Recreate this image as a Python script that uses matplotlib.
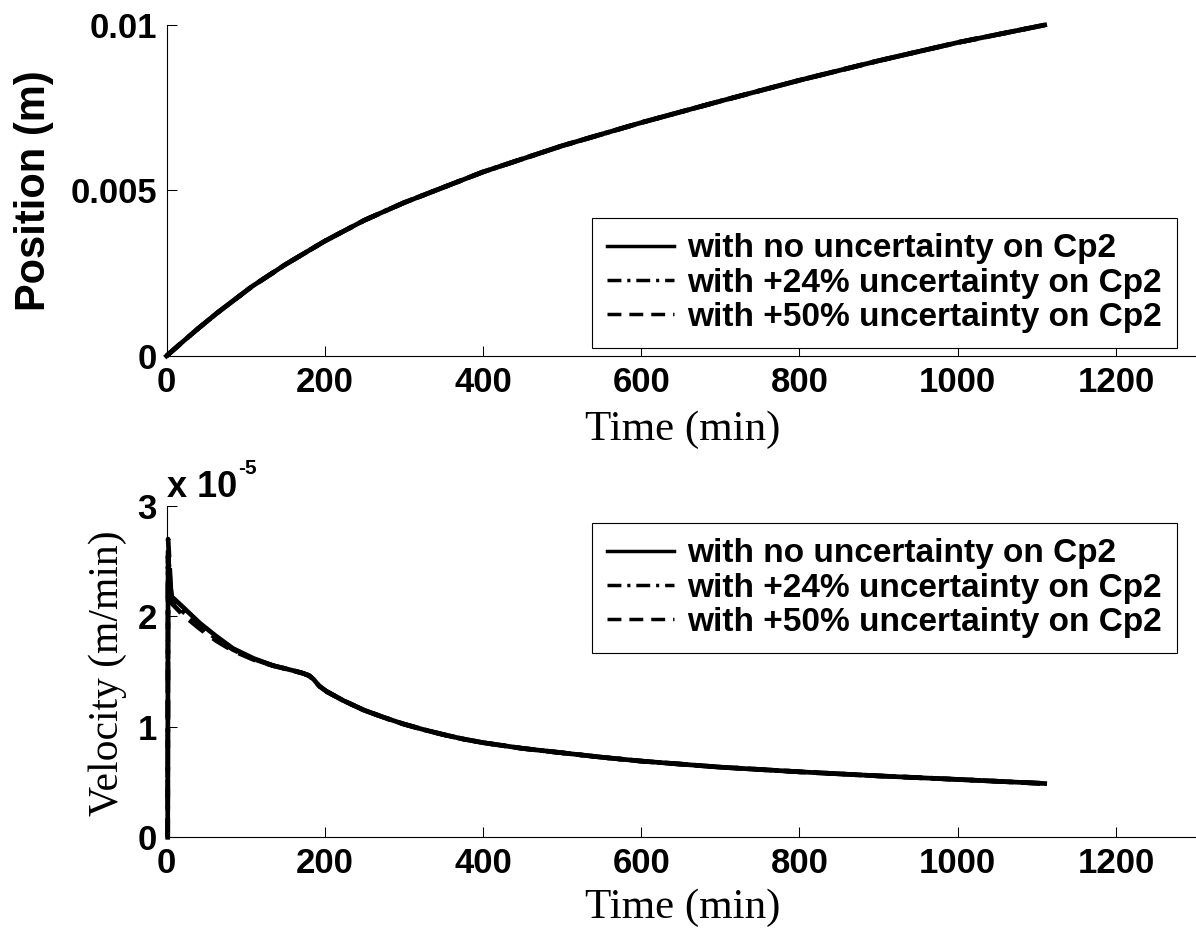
import matplotlib
matplotlib.use("Agg")
import matplotlib.pyplot as plt
from matplotlib.lines import Line2D

plt.rcParams["font.family"] = ["Liberation Sans", "DejaVu Sans"]
plt.rcParams["font.weight"] = "bold"

# position (m) vs time (min)
pos_t = [0, 20, 40, 64, 108, 150, 200, 250, 300, 400, 500, 600, 700, 800, 900, 1000, 1110]
pos_none = [0, 0.42e-3, 0.83e-3, 1.30e-3, 2.10e-3, 2.76e-3, 3.47e-3, 4.10e-3, 4.63e-3,
            5.56e-3, 6.35e-3, 7.05e-3, 7.70e-3, 8.33e-3, 8.92e-3, 9.47e-3, 10.0e-3]
pos_24 = [0, 0.42e-3, 0.83e-3, 1.30e-3, 2.10e-3, 2.76e-3, 3.47e-3, 4.10e-3, 4.63e-3,
          5.56e-3, 6.35e-3, 7.05e-3, 7.70e-3, 8.33e-3, 8.92e-3, 9.47e-3, 10.0e-3]
pos_50 = [0, 0.42e-3, 0.83e-3, 1.30e-3, 2.10e-3, 2.76e-3, 3.47e-3, 4.10e-3, 4.63e-3,
          5.56e-3, 6.35e-3, 7.05e-3, 7.70e-3, 8.33e-3, 8.92e-3, 9.47e-3, 10.0e-3]

# velocity (x 1e-5 m/min) vs time (min)
vel_t = [1.5, 2, 6.5, 20, 42, 63, 84, 110, 134.5, 160, 172.6, 180, 186, 193, 202.5,
         223, 250, 275, 300, 325, 350, 375, 400, 450, 500, 550, 600, 700, 800, 900,
         1000, 1110]
vel_none = [0, 2.45, 2.18, 2.09, 1.94, 1.82, 1.71, 1.62, 1.555, 1.51, 1.485, 1.465, 1.43,
            1.37, 1.32, 1.24, 1.15, 1.085, 1.025, 0.975, 0.93, 0.89, 0.857, 0.805, 0.765,
            0.725, 0.69, 0.635, 0.593, 0.556, 0.524, 0.487]
vel_24 = [0, 2.55, 2.15, 2.05, 1.91, 1.80, 1.70, 1.615, 1.555, 1.51, 1.485, 1.465, 1.43,
          1.37, 1.32, 1.24, 1.15, 1.085, 1.025, 0.975, 0.93, 0.89, 0.857, 0.805, 0.765,
          0.725, 0.69, 0.635, 0.593, 0.556, 0.524, 0.487]
vel_50 = [0, 2.70, 2.12, 2.02, 1.89, 1.78, 1.69, 1.61, 1.555, 1.51, 1.485, 1.465, 1.43,
          1.37, 1.32, 1.24, 1.15, 1.085, 1.025, 0.975, 0.93, 0.89, 0.857, 0.805, 0.765,
          0.725, 0.69, 0.635, 0.593, 0.556, 0.524, 0.487]

series_labels = ["with no uncertainty on Cp2",
                 "with +24% uncertainty on Cp2",
                 "with +50% uncertainty on Cp2"]
x_ticks = [0, 200, 400, 600, 800, 1000, 1200]
pos_ticks = [0, 0.005, 0.01]
pos_tick_labels = ["0", "0.005", "0.01"]
vel_ticks = [0, 1, 2, 3]

W, H = 1196, 932
fig = plt.figure(figsize=(W / 100, H / 100), dpi=100)


def px_axes(left, top, right, bottom):
    return fig.add_axes([left / W, 1 - bottom / H, (right - left) / W, (bottom - top) / H])


ax1 = px_axes(166.5, 25, 1195, 356)
ax2 = px_axes(166.5, 506, 1195, 837.3)

styles = [dict(ls="-"), dict(ls=(0, (4.0, 1.7, 0.9, 1.7))), dict(ls=(0, (4.0, 2.3)))]
lw = 3.4
lw_handle = 2.5

for ys, st in zip([pos_none, pos_24, pos_50], styles):
    ax1.plot(pos_t, ys, color="black", lw=lw, clip_on=False, **st)
for ys, st in zip([vel_none, vel_24, vel_50], styles):
    ax2.plot(vel_t, ys, color="black", lw=lw, clip_on=False, **st)

for ax in (ax1, ax2):
    ax.set_xlim(0, 1300)
    ax.set_xticks(x_ticks)
    ax.spines["top"].set_visible(False)
    ax.spines["right"].set_visible(False)
    for s in ("left", "bottom"):
        ax.spines[s].set_linewidth(0.8)
    ax.tick_params(direction="in", length=7, width=0.75, labelsize=25, pad=7)

ax1.set_ylim(0, 0.01)
ax1.set_yticks(pos_ticks, pos_tick_labels)
ax2.set_ylim(0, 3)
ax2.set_yticks(vel_ticks, [str(v) for v in vel_ticks])

handles = [Line2D([], [], color="black", lw=lw_handle, **st) for st in styles]
for ax, bottom in ((ax1, 348), (ax2, 653)):
    leg = ax.legend(handles, series_labels, loc="lower right",
                    bbox_to_anchor=(1177 / W, 1 - bottom / H), bbox_transform=fig.transFigure,
                    fontsize=24, handlelength=2.0, handletextpad=0.4, borderpad=0.45,
                    labelspacing=0.1, borderaxespad=0, fancybox=False, framealpha=1,
                    edgecolor="black")
    leg.get_frame().set_linewidth(0.8)

fig.text(683 / W, 1 - 430 / H, "Time (min)", family="Liberation Serif", weight="normal",
         size=31, ha="center", va="center")
fig.text(683 / W, 1 - 908 / H, "Time (min)", family="Liberation Serif", weight="normal",
         size=31, ha="center", va="center")
fig.text(34 / W, 1 - 190.5 / H, "Position (m)", size=30, rotation=90,
         ha="center", va="center")
fig.text(108 / W, 1 - 673 / H, "Velocity (m/min)", family="Liberation Serif",
         weight="normal", size=30, rotation=90, ha="center", va="center")

fig.text(166.7 / W, 1 - 497 / H, "x 10", size=26, va="baseline")
fig.text(238 / W, 1 - 474 / H, "-5", size=15, va="baseline")

fig.savefig("out.png", dpi=100)
